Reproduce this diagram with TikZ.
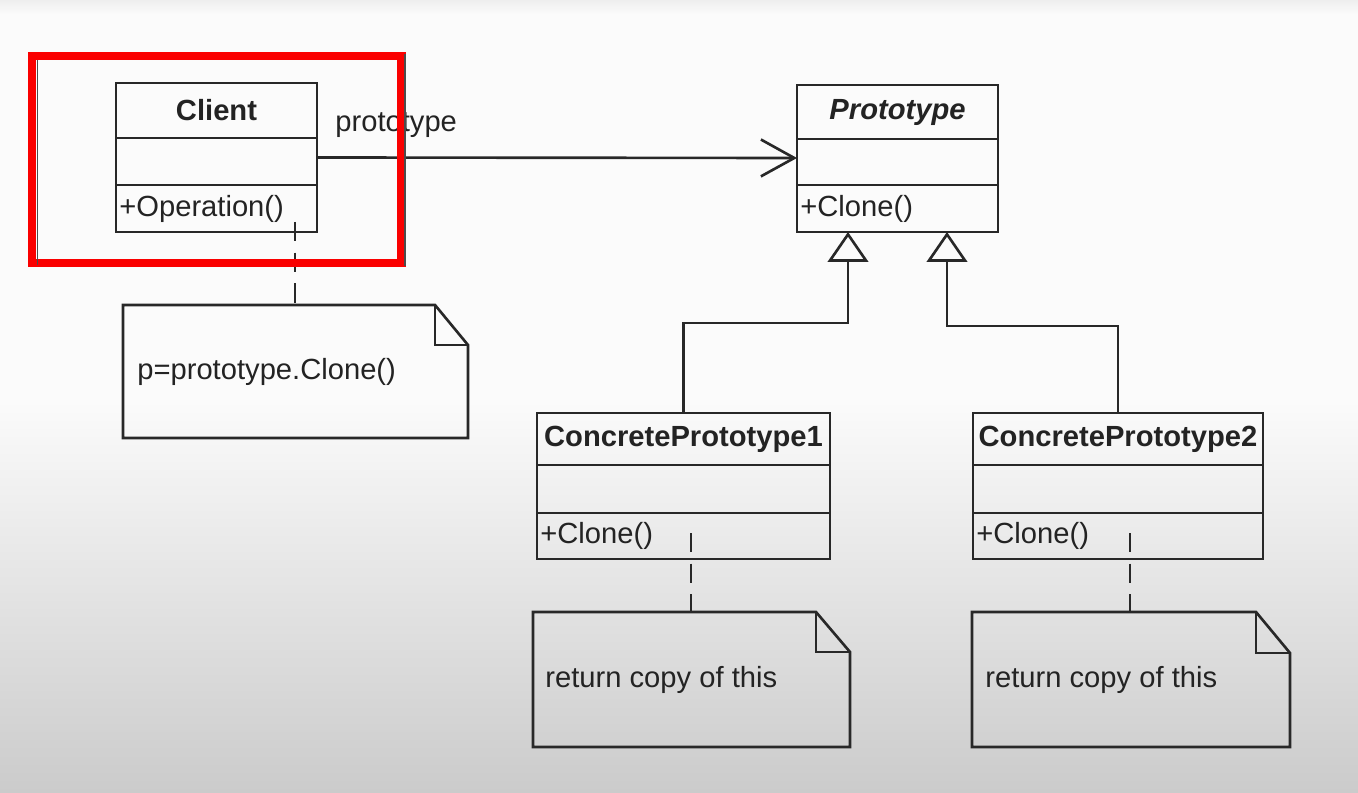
\documentclass[tikz,border=0pt]{standalone}
\usepackage{fontspec}
\setmainfont{Liberation Sans}
\usetikzlibrary{arrows.meta,calc}
\newdimen\px \px=0.02cm
\definecolor{ink}{RGB}{40,40,40}
\definecolor{txtc}{RGB}{35,35,35}
\definecolor{bgtop}{RGB}{251,251,251}
\definecolor{bgband}{RGB}{238,238,238}
\definecolor{bgbot}{RGB}{203,203,203}
\definecolor{hilite}{RGB}{250,0,0}
\newcommand\umlnote[3]{%
  \draw[line, line join=miter] (#1.north west) -- ($(#1.north east)+(-#2,0)$) -- ($(#1.north east)+(0,#3)$) -- (#1.south east) -- (#1.south west) -- cycle;
  \draw[line, line join=miter] ($(#1.north east)+(-#2,0)$) |- ($(#1.north east)+(0,#3)$);}
\begin{document}
\begin{tikzpicture}[x=0.02cm,y=-0.02cm,
  font=\fontsize{16.6}{20}\selectfont,
  line/.style={draw=ink, line width=1.5pt},
  comp/.style 2 args={line, inner sep=0pt, outer sep=0pt, minimum width=#1\px, minimum height=#2\px, text=txtc},
  notebox/.style 2 args={inner sep=0pt, outer sep=0pt, minimum width=#1\px, minimum height=#2\px},
  txt/.style={inner sep=0pt, text=txtc},
  dashline/.style={line, dash pattern=on 11pt off 6.5pt},
  inherit/.style={line, -{Triangle[open, length=17pt, width=23pt]}},
  assoc/.style={line, -{Straight Barb[length=19pt, width=21pt]}}]
\useasboundingbox (0,0) rectangle (1358,793);
% background
\fill[bgtop] (0,0) rectangle (1358,793);
\shade[top color=bgband, bottom color=bgtop] (0,0) rectangle (1358,14);
\shade[top color=bgtop, bottom color=bgbot] (0,400) rectangle (1358,793);

% Client
\node[comp={201}{55}] (client-name) at (216.5,110.5) {\bfseries Client};
\node[comp={201}{47}, anchor=north] (client-attr) at (client-name.south) {};
\node[comp={201}{47}, anchor=north] (client-ops) at (client-attr.south) {};
\node[txt, anchor=west] (client-op) at ($(client-ops.west)+(3,0)$) {+Operation()};

% Prototype
\node[comp={201}{54}] (proto-name) at (897.5,112) {\bfseries\itshape Prototype};
\node[comp={201}{46}, anchor=north] (proto-attr) at (proto-name.south) {};
\node[comp={201}{47}, anchor=north] (proto-ops) at (proto-attr.south) {};
\node[txt, anchor=west] (proto-op) at ($(proto-ops.west)+(3,0)$) {+Clone()};

% ConcretePrototype1
\node[comp={293}{52}] (cp1-name) at (683.5,439) {\bfseries ConcretePrototype1};
\node[comp={293}{48}, anchor=north] (cp1-attr) at (cp1-name.south) {};
\node[comp={293}{46}, anchor=north] (cp1-ops) at (cp1-attr.south) {};
\node[txt, anchor=west] (cp1-op) at ($(cp1-ops.west)+(3,0)$) {+Clone()};

% ConcretePrototype2
\node[comp={290}{52}] (cp2-name) at (1118,439) {\bfseries ConcretePrototype2};
\node[comp={290}{48}, anchor=north] (cp2-attr) at (cp2-name.south) {};
\node[comp={290}{46}, anchor=north] (cp2-ops) at (cp2-attr.south) {};
\node[txt, anchor=west] (cp2-op) at ($(cp2-ops.west)+(3,0)$) {+Clone()};

% notes
\node[notebox={345}{133}] (n1) at (295.5,371.5) {};
\umlnote{n1}{33}{40}
\node[txt, anchor=west] (n1-text) at ($(n1.west)+(14,0)$) {p=prototype.Clone()};

\node[notebox={317}{135}] (n2) at (691.5,679.5) {};
\umlnote{n2}{34}{40}
\node[txt, anchor=west] (n2-text) at ($(n2.west)+(12,0)$) {return copy of this};

\node[notebox={318}{135}] (n3) at (1131,679.5) {};
\umlnote{n3}{34}{41}
\node[txt, anchor=west] (n3-text) at ($(n3.west)+(13,0)$) {return copy of this};

% note attachments
\coordinate (d1) at (295,222);
\draw[dashline] (d1) -- (d1 |- n1.north);
\coordinate (d2) at (691,533);
\draw[dashline] (d2) -- (d2 |- n2.north);
\coordinate (d3) at (1130,533);
\draw[dashline] (d3) -- (d3 |- n3.north);

% association
\draw[assoc] ($(client-attr.east)+(0,-4)$) -- ($(proto-attr.west)+(0,-4)$);
\node[txt, anchor=base west] (assoc-label) at (335,132) {prototype};

% generalizations
\coordinate (t1) at ($(proto-ops.south)+(-49.5,0)$);
\coordinate (t2) at ($(proto-ops.south)+(49.5,0)$);
\draw[inherit] (cp1-name.north) |- ($(t1)+(0,91)$) -- (t1);
\draw[inherit] (cp2-name.north) |- ($(t2)+(0,94)$) -- (t2);

% red highlight
\draw[hilite, line width=4.6pt] (32,56) rectangle (401.5,263);
\draw[black!70, line width=1pt] (37.5,60) -- (37.5,265);
\draw[black!70, line width=1.2pt] (405,54) -- (405,266);
\end{tikzpicture}
\end{document}
